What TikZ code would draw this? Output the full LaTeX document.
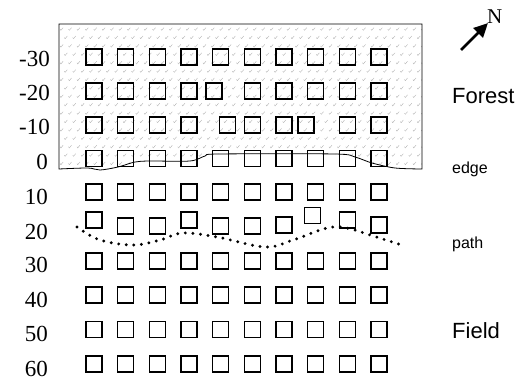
\documentclass[tikz,border=0pt]{standalone}
\usepackage{fontspec}
\setmainfont{Liberation Serif}
\newfontfamily\arial{Liberation Sans}
\usetikzlibrary{arrows.meta}
\begin{document}
\begin{tikzpicture}[x=1pt,y=-1pt,
  sq/.style={draw, line width=1.4pt, minimum size=16pt, inner sep=0pt},
  num/.style={anchor=base east, inner sep=0pt, font=\fontsize{23}{23}\selectfont},
  big/.style={anchor=base west, inner sep=0pt, font=\arial\fontsize{22}{22}\selectfont},
  small/.style={anchor=base west, inner sep=0pt, font=\arial\fontsize{16}{16}\selectfont},
  tex/.style={draw=gray!60, line width=0.4pt, line cap=round},
  border/.style={draw, line width=0.8pt},
  trail/.style={line width=3.2pt, dash pattern=on 0pt off 7.6pt, line cap=round}]
\useasboundingbox (0,0) rectangle (530,383);
% forest texture
\begin{scope}
\clip (59,24) -- (422,24) -- (422,169) -- plot[smooth, tension=0.5] coordinates {(422,169) (395,168) (372,163) (355,157) (335,154) (218,154) (205,156) (190,161) (150,161) (135,162) (118,167) (100,170) (88,168) (59,169)} -- cycle;
\foreach \j in {0,...,18} {
  \foreach \i in {0,...,44} {
    \pgfmathsetmacro\xx{62+8.4*\i+4.2*mod(\j,2)}
    \pgfmathsetmacro\yy{29+8.4*\j}
    \draw[tex] (\xx-1.1,\yy+1.3) -- (\xx+1.1,\yy-1.3);
    \draw[tex] (\xx-1.1,\yy+1.3) -- (\xx-1.8,\yy+0.2);
  }
}
\end{scope}
\draw[border] (59,24) -- (422,24) -- (422,169) -- plot[smooth, tension=0.5] coordinates {(422,169) (395,168) (372,163) (355,157) (335,154) (218,154) (205,156) (190,161) (150,161) (135,162) (118,167) (100,170) (88,168) (59,169)} -- cycle;
% squares, regular rows
\foreach \r/\y in {a/57, d/158.5, e/192, g/261, h/295, i/329.5, j/364} {
  \foreach \c in {0,...,9} {
    \node[sq] (s\r\c) at ({94+31.67*\c},\y) {};
  }
}
% row -20
\foreach \x [count=\k] in {94,125.7,157.3,189,214,252.3,284,315.7,347.3,379} {
  \node[sq] (sb\k) at (\x,91) {};
}
% row -10
\foreach \x [count=\k] in {94,125.7,157.3,189,227.5,252.3,284,306,347.3,379} {
  \node[sq] (sc\k) at (\x,125) {};
}
% row 20
\foreach \x/\y [count=\k] in {94/220,125.7/226,157.3/226,189/220,220.7/226,252.3/226,284/225,312.5/215.5,347.3/220,379/225} {
  \node[sq] (sf\k) at (\x,\y) {};
}
% path
\draw[trail] plot[smooth, tension=0.6] coordinates {(77,227) (100,240) (133,245) (160,240) (183,233) (217,237) (265,247) (293,240) (327,228) (347,228) (370,235) (405,246)};
% row labels
\node[num] (l1) at (50,66) {-30};
\node[num] (l2) at (50,100.5) {-20};
\node[num] (l3) at (50,134) {-10};
\node[num] (l4) at (48,169) {0};
\node[num] (l5) at (48,204) {10};
\node[num] (l6) at (48,239) {20};
\node[num] (l7) at (48,272) {30};
\node[num] (l8) at (48,307) {40};
\node[num] (l9) at (48,341) {50};
\node[num] (l10) at (48,376) {60};
% right labels
\node[big] (forest) at (452,103) {Forest};
\node[small] (edge) at (452,173) {edge};
\node[small] (pathlbl) at (452,248) {path};
\node[big] (field) at (452,338) {Field};
% north arrow
\coordinate (tail) at (461,50);
\coordinate (tip) at (488,23);
\draw[line width=2.8pt, -{Triangle[length=14pt,width=13pt]}] (tail) -- (tip);
\node[anchor=base west, inner sep=0pt, font=\fontsize{21}{21}\selectfont] (north) at (487,23) {N};
\end{tikzpicture}
\end{document}
